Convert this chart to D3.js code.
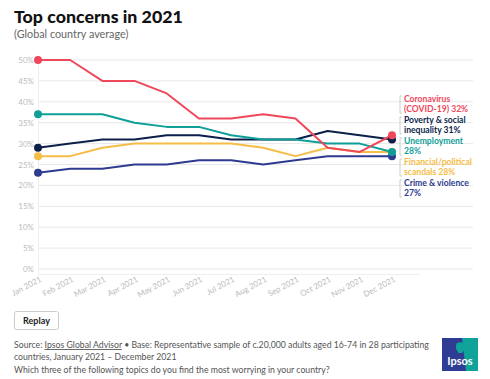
<!DOCTYPE html>
<html><head><meta charset="utf-8">
<script src="https://cdn.jsdelivr.net/npm/d3@7"></script>
<style>
body{margin:0;background:#fff;font-family:Lato,"Open Sans",sans-serif;}
svg{display:block}
</style></head>
<body>
<svg id="c" width="490" height="379"></svg>
<script>
const months = ["Jan 2021","Feb 2021","Mar 2021","Apr 2021","May 2021","Jun 2021","Jul 2021","Aug 2021","Sep 2021","Oct 2021","Nov 2021","Dec 2021"];
const yTicks = [0,5,10,15,20,25,30,35,40,45,50];
const seriesNames = ["Coronavirus (COVID-19)","Poverty & social inequality","Unemployment","Financial/political scandals","Crime & violence"];
const coronavirus = [50,50,45,45,42,36,36,37,36,29,28,32];
const poverty     = [29,30,31,31,32,32,31,31,31,33,32,31];
const unemployment= [37,37,37,35,34,34,32,31,31,30,30,28];
const scandals    = [27,27,29,30,30,30,30,29,27,29,28,28];
const crime       = [23,24,24,25,25,26,26,25,26,27,27,27];
const labelLines = [["Coronavirus","(COVID-19) 32%"],["Poverty & social","inequality 31%"],["Unemployment","28%"],["Financial/political","scandals 28%"],["Crime & violence","27%"]];
const colors = ["#f0485b","#0c1f4a","#0f9e98","#f5bd47","#2e3b91"];

const svg = d3.select("#c");
const x = d3.scalePoint().domain(months).range([38,392]);
const y = d3.scaleLinear().domain([0,50]).range([269,60]);

function fit(sel, w){ const l = sel.node().getComputedTextLength(); const fs = +sel.attr("font-size"); sel.attr("font-size", fs*w/l); }

// title
const title = svg.append("text").attr("x",14).attr("y",23).text("Top concerns in 2021")
  .attr("font-size",18).attr("font-weight",900).attr("fill","#111");
fit(title,169);
svg.append("text").attr("x",14).attr("y",38).text("(Global country average)")
  .attr("font-size",10.8).attr("fill","#666");

// gridlines
svg.append("g").selectAll("line").data(yTicks).join("line")
  .attr("x1",38).attr("x2",473).attr("y1",d=>y(d)).attr("y2",d=>y(d))
  .attr("stroke","#e8e8e8").attr("stroke-width",1);
// axis lines
svg.append("line").attr("x1",38.5).attr("x2",38.5).attr("y1",55).attr("y2",274).attr("stroke","#eee");
svg.append("line").attr("x1",38).attr("x2",420).attr("y1",274.5).attr("y2",274.5).attr("stroke","#eee");

// y labels
svg.append("g").selectAll("text").data(yTicks).join("text")
  .attr("x",34).attr("y",d=>y(d)+3).attr("text-anchor","end")
  .attr("font-size",8).attr("fill","#bbb").text(d=>d+"%");

// x labels
svg.append("g").selectAll("text").data(months).join("text")
  .attr("transform",d=>`translate(${x(d)+4},${281}) rotate(-28)`)
  .attr("text-anchor","end").attr("font-size",8).attr("fill","#bbb").text(d=>d);

const data = [coronavirus,poverty,unemployment,scandals,crime];
const line = d3.line().x((d,i)=>x(months[i])).y(d=>y(d));
const order = [4,3,1,2,0];
order.forEach(k=>{
  svg.append("path").attr("d",line(data[k])).attr("fill","none")
    .attr("stroke",colors[k]).attr("stroke-width",2).attr("stroke-linejoin","round");
});
order.forEach(k=>{
  svg.append("circle").attr("cx",x(months[0])).attr("cy",y(data[k][0])).attr("r",4).attr("fill",colors[k]);
});
[3,4,1,0,2].forEach(k=>{
  svg.append("circle").attr("cx",x(months[11])).attr("cy",y(data[k][11])).attr("r",4).attr("fill",colors[k]);
});

// right labels
const labelY = [102,123,144,165,186];
labelLines.forEach((ls,k)=>{
  ls.forEach((s,j)=>{
    svg.append("text").attr("x",404).attr("y",labelY[k]+j*10.4)
      .attr("font-size",8.6).attr("font-weight",700)
      .attr("fill",colors[k]).text(s);
  });
  svg.append("path").attr("d",`M402,${labelY[k]-6}H400V${labelY[k]+11}H402`)
    .attr("fill","none").attr("stroke","#ccc").attr("stroke-width",1);
});

// replay button
svg.append("rect").attr("x",14.5).attr("y",311.5).attr("width",44).attr("height",18).attr("rx",2)
  .attr("fill","#fff").attr("stroke","#ccc");
svg.append("text").attr("x",36.5).attr("y",324).attr("text-anchor","middle")
  .attr("font-size",9).attr("font-weight",700).attr("fill","#222").text("Replay");

// footer
const f = svg.append("g").attr("fill","#555");
const l1 = f.append("text").attr("x",14).attr("y",348).attr("font-size",9.4);
l1.append("tspan").text("Source: ");
l1.append("tspan").attr("text-decoration","underline").text("Ipsos Global Advisor");
l1.append("tspan").text(" \u2022 Base: Representative sample of c.20,000 adults aged 16-74 in 28 participating");
fit(l1,414);
const fs = l1.attr("font-size");
f.append("text").attr("x",14).attr("y",360).attr("font-size",fs).text("countries, January 2021 \u2013 December 2021");
f.append("text").attr("x",14).attr("y",373).attr("font-size",fs).text("Which three of the following topics do you find the most worrying in your country?");

// logo
const lg = svg.append("g");
lg.append("rect").attr("x",442).attr("y",338).attr("width",36).attr("height",33).attr("fill","#2f3c93");
lg.append("path").attr("d","M462,338H478V371H466Z").attr("fill","#10a39a");
lg.append("path").attr("d","M457,343c4,-2 8,0 8,4c0,3 -2,4 -3,6h-4c0,-2 -2,-3 -2,-5c0,-2 0,-4 1,-5Z").attr("fill","#10a39a");
lg.append("text").attr("x",460).attr("y",365).attr("text-anchor","middle").attr("font-size",11)
  .attr("font-weight",700).attr("fill","#fff").text("Ipsos");
</script>
</body></html>
